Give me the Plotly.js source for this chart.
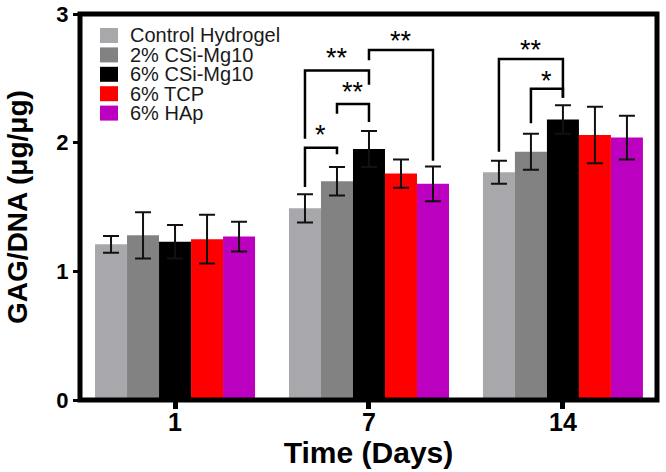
<!DOCTYPE html>
<html>
<head>
<meta charset="utf-8">
<script src="https://cdn.plot.ly/plotly-3.0.1.min.js"></script>
<style>html,body{margin:0;padding:0;background:#fff;}#chart{width:666px;height:472px;}</style>
</head>
<body>
<div id="chart"></div>
<script>
// ---- data ----
var days = ['1', '7', '14'];
var seriesNames = ['Control Hydrogel', '2% CSi-Mg10', '6% CSi-Mg10', '6% TCP', '6% HAp'];
var control    = [1.21, 1.49, 1.77];
var controlErr = [0.065, 0.11, 0.09];
var csi2       = [1.28, 1.70, 1.93];
var csi2Err    = [0.18, 0.11, 0.14];
var csi6       = [1.23, 1.95, 2.18];
var csi6Err    = [0.13, 0.14, 0.11];
var tcp        = [1.25, 1.76, 2.06];
var tcpErr     = [0.19, 0.11, 0.22];
var hap        = [1.27, 1.68, 2.04];
var hapErr     = [0.115, 0.135, 0.17];
var yTickVals  = [0, 1, 2, 3];
// significance brackets: day index, bar A, bar B, bracket top, leg A end, leg B end, label, label centre
var brDay   = [1, 1, 1, 1, 2, 2];
var brA     = [0, 1, 0, 2, 1, 0];
var brB     = [1, 2, 2, 4, 2, 2];
var brTop   = [1.96, 2.30, 2.56, 2.72, 2.42, 2.65];
var brLegA  = [1.655, 2.225, 2.03, 2.64, 2.15, 1.93];
var brLegB  = [1.91, 2.16, 2.45, 1.86, 2.35, 2.35];
var brLabel = ['*', '**', '**', '**', '*', '**'];
var brLabY  = [2.08, 2.42, 2.68, 2.81, 2.50, 2.74];

// ---- styles ----
var colors = ['#A8A8AC', '#828282', '#000000', '#FF0000', '#BB00BF'];
var values = [control, csi2, csi6, tcp, hap];
var errs = [controlErr, csi2Err, csi6Err, tcpErr, hapErr];
var xIdx = days.map(function (d, i) { return i; });
var bargap = 0.175;
var nS = seriesNames.length;
var barW = (1 - bargap) / nS;
function barCenter(day, s) { return day - (1 - bargap) / 2 + barW * (s + 0.5); }

var traces = values.map(function (v, s) {
  return {
    type: 'bar', name: seriesNames[s], x: xIdx, y: v,
    marker: { color: colors[s], line: { width: 0 } },
    error_y: { type: 'data', array: errs[s], visible: true, color: '#111', thickness: 2, width: 8 },
    showlegend: false
  };
});

var M = { l: 80, r: 9, t: 14, b: 72 };
var W = 666, H = 472;
var pw = W - M.l - M.r, ph = H - M.t - M.b;
function px2x(p) { return (p - M.l) / pw; }
function py2y(p) { return (H - M.b - p) / ph; }

var FONT = 'Liberation Sans, Arial, sans-serif';
var shapes = [];
var annotations = [];
// brackets
for (var k = 0; k < brDay.length; k++) {
  var xa = barCenter(brDay[k], brA[k]);
  var xb = barCenter(brDay[k], brB[k]);
  shapes.push({ type: 'path', xref: 'x', yref: 'y',
    path: 'M ' + xa + ',' + brLegA[k] + ' L ' + xa + ',' + brTop[k] + ' L ' + xb + ',' + brTop[k] + ' L ' + xb + ',' + brLegB[k],
    line: { color: '#000', width: 2.5 } });
  annotations.push({ xref: 'x', yref: 'y', x: (xa + xb) / 2, y: brLabY[k], text: brLabel[k],
    showarrow: false, yanchor: 'middle', xanchor: 'center', yshift: -3,
    font: { family: FONT, size: 27, color: '#000' } });
}
// legend (custom, compact rows)
var legX0 = 100, legSq = 18, legSqH = 15, legRow0 = 35.5, legStep = 19.4, legTextX = 128;
for (var s = 0; s < nS; s++) {
  var cy = legRow0 + legStep * s;
  shapes.push({ type: 'rect', xref: 'paper', yref: 'paper',
    x0: px2x(legX0), x1: px2x(legX0 + legSq), y0: py2y(cy + legSqH / 2), y1: py2y(cy - legSqH / 2),
    fillcolor: colors[s], line: { width: 0 } });
  annotations.push({ xref: 'paper', yref: 'paper', x: px2x(legTextX), y: py2y(cy), text: seriesNames[s],
    showarrow: false, xanchor: 'left', yanchor: 'middle',
    font: { family: FONT, size: 20, color: '#1a1a1a' } });
}
// frame
shapes.push({ type: 'rect', xref: 'paper', yref: 'paper', x0: 0, x1: 1, y0: 0, y1: 1,
  line: { color: '#000', width: 5 }, layer: 'above' });

var layout = {
  width: W, height: H, margin: M,
  paper_bgcolor: '#fff', plot_bgcolor: '#fff',
  barmode: 'group', bargap: bargap, bargroupgap: 0,
  showlegend: false,
  xaxis: {
    range: [-0.49, 2.485], tickvals: xIdx, ticktext: days,
    showgrid: false, zeroline: false, showline: false,
    ticks: 'outside', ticklen: 8, tickwidth: 5, tickcolor: '#000',
    ticklabelstandoff: -8,
    tickfont: { family: FONT, size: 25, color: '#000', weight: 'bold' },
    title: { text: 'Time (Days)', standoff: 6,
      font: { family: FONT, size: 30, color: '#000', weight: 'bold' } }
  },
  yaxis: {
    range: [0, 3], tickvals: yTickVals, ticktext: yTickVals.map(String),
    showgrid: false, zeroline: false, showline: false,
    ticks: 'outside', ticklen: 6, tickwidth: 3, tickcolor: '#000',
    tickfont: { family: FONT, size: 22, color: '#000', weight: 'bold' },
    title: { text: 'GAG/DNA (μg/μg)', standoff: 20,
      font: { family: FONT, size: 28, color: '#000', weight: 'bold' } }
  },
  shapes: shapes,
  annotations: annotations
};

Plotly.newPlot('chart', traces, layout, { staticPlot: true, displayModeBar: false });
</script>
</body>
</html>
